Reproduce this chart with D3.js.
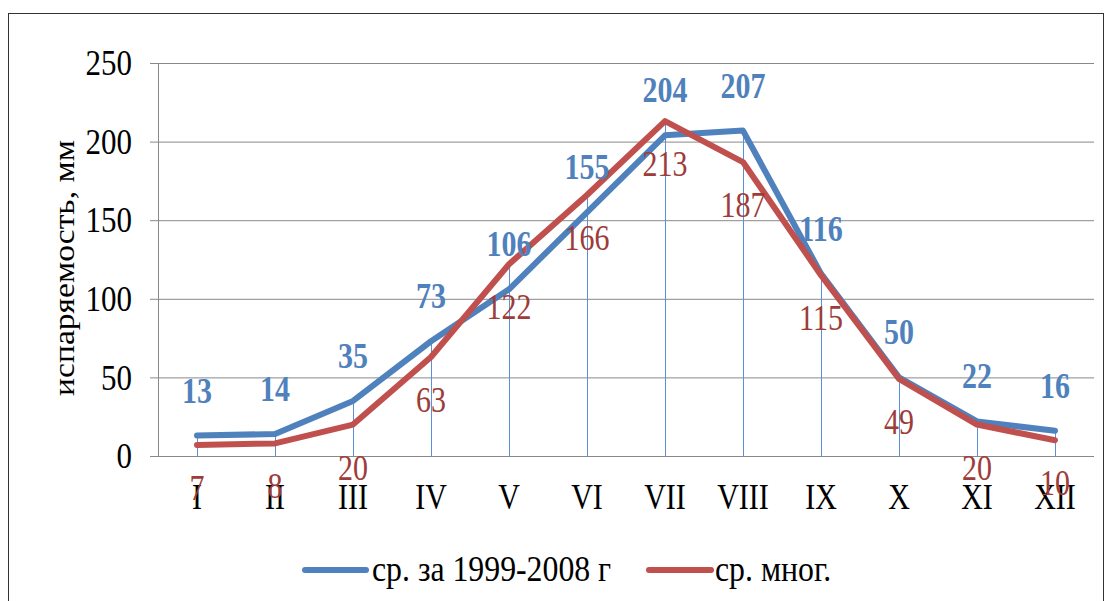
<!DOCTYPE html>
<html>
<head>
<meta charset="utf-8">
<script src="https://cdn.jsdelivr.net/npm/d3@7"></script>
<style>
  body { margin:0; background:#fff; }
  svg { display:block; font-family:"Liberation Serif","Times New Roman",serif; }
</style>
</head>
<body>
<div id="chart"></div>
<script>
// данные
const months = ['I','II','III','IV','V','VI','VII','VIII','IX','X','XI','XII'];
const avg1999 = [13,14,35,73,106,155,204,207,116,50,22,16];
const avgLong = [7,8,20,63,122,166,213,187,115,49,20,10];
const yTicks = [0,50,100,150,200,250];
const seriesNames = ['ср. за 1999-2008 г','ср. мног.'];

const W = 1112, H = 601;
const blue = '#4f81bd', red = '#c0504d';
const redLbl = '#9d3c39', dropCol = '#5b8fd8', grid = '#898989';
const SY = 1.18; // текст в оригинале слегка вытянут по вертикали

const svg = d3.select('#chart').append('svg').attr('width',W).attr('height',H);

// рамка
svg.append('rect').attr('x',8.5).attr('y',13.5).attr('width',1095).attr('height',620)
  .attr('fill','none').attr('stroke','#333').attr('stroke-width',1);

const x = d3.scaleBand().domain(months).range([158,1094]);
const cx = d => x(d) + x.bandwidth()/2;
const y = d3.scaleLinear().domain([0,250]).range([456,63]);

function txt(px, py, s, opts={}){
  return svg.append('text')
    .attr('transform',`translate(${px},${py}) scale(${opts.sx || 1},${SY})`)
    .attr('text-anchor', opts.anchor || 'middle')
    .attr('font-size', opts.size || 30)
    .attr('font-weight', opts.weight || 'normal')
    .attr('fill', opts.fill || '#000')
    .text(s);
}

// сетка + ось Y
const yAxis = svg.append('g').attr('transform','translate(158,0)')
  .call(d3.axisLeft(y).tickValues(yTicks).tickSize(8).tickPadding(18).tickSizeOuter(0));
yAxis.select('.domain').attr('stroke',grid);
yAxis.selectAll('.tick line').attr('stroke',grid);
yAxis.selectAll('.tick text')
  .attr('font-size',31).attr('fill','#000')
  .attr('font-family','"Liberation Serif","Times New Roman",serif')
  .attr('transform',`scale(1,${SY})`);
svg.append('g').selectAll('line').data(yTicks.filter(t=>t>0)).join('line')
  .attr('x1',158).attr('x2',1094).attr('y1',d=>y(d)+0.5).attr('y2',d=>y(d)+0.5)
  .attr('stroke',grid).attr('stroke-width',1);
svg.append('line').attr('x1',158).attr('x2',1094).attr('y1',y(0)+0.5).attr('y2',y(0)+0.5)
  .attr('stroke',grid);

// подпись оси Y
svg.append('text')
  .attr('transform','translate(74,268) rotate(-90) scale(1.2,1.05)')
  .attr('text-anchor','middle').attr('font-size',28).text('испаряемость, мм');

// линии проекции
svg.append('g').selectAll('line').data(months).join('line')
  .attr('x1',d=>cx(d)+0.5).attr('x2',d=>cx(d)+0.5)
  .attr('y1',(d,i)=>y(Math.max(avg1999[i],avgLong[i])))
  .attr('y2',y(0))
  .attr('stroke',dropCol).attr('stroke-width',1);

// подписи оси X
months.forEach(m => txt(cx(m), 509, m, {size:30}));

// линии рядов
const line = d3.line().x((d,i)=>cx(months[i])).y(d=>y(d));
svg.append('path').datum(avg1999).attr('d',line)
  .attr('fill','none').attr('stroke',blue).attr('stroke-width',6).attr('stroke-linejoin','round').attr('stroke-linecap','round');
svg.append('path').datum(avgLong).attr('d',line)
  .attr('fill','none').attr('stroke',red).attr('stroke-width',6).attr('stroke-linejoin','round').attr('stroke-linecap','round');

// подписи значений
avg1999.forEach((v,i)=> txt(cx(months[i]), y(v)-33, v, {size:30, weight:'bold', fill:blue}));
avgLong.forEach((v,i)=> txt(cx(months[i]), y(v)+55, v, {size:30, fill:redLbl}));

// легенда
const lg = [{x1:305,x2:366,tx:372,c:blue,s:seriesNames[0]},{x1:649,x2:711,tx:715,c:red,s:seriesNames[1]}];
lg.forEach(d=>{
  svg.append('line').attr('x1',d.x1).attr('x2',d.x2).attr('y1',570).attr('y2',570)
    .attr('stroke',d.c).attr('stroke-width',6).attr('stroke-linecap','round');
  txt(d.tx, 581, d.s, {anchor:'start', size:30, sx:1.06});
});
</script>
</body>
</html>
